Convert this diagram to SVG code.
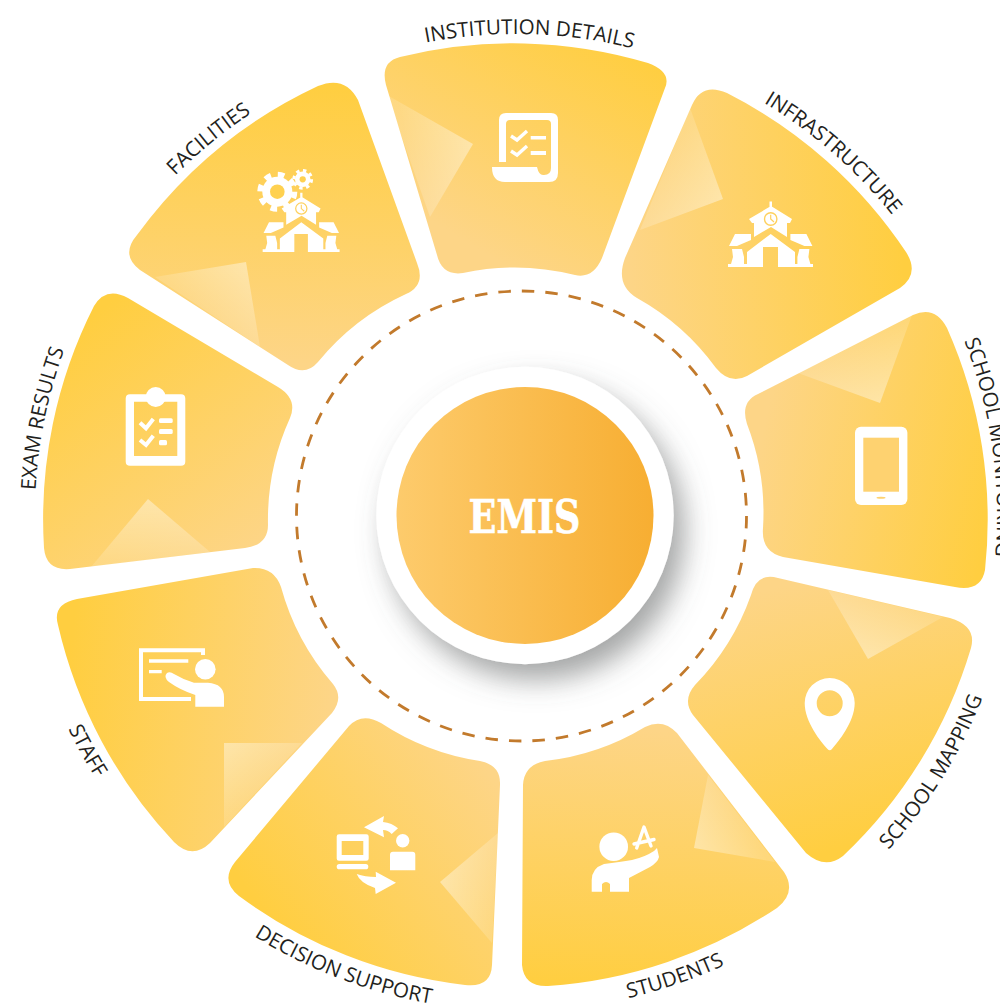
<svg xmlns="http://www.w3.org/2000/svg" xmlns:xlink="http://www.w3.org/1999/xlink" width="1000" height="1005" viewBox="0 0 1000 1005">
<style>
.lbl{font-family:"Open Sans","Noto Sans",sans-serif;font-size:20.6px;fill:#231f20;text-anchor:middle}
.w{fill:#fff}
.ck{fill:none;stroke:#fff;stroke-width:3.4}
</style>
<defs>
<linearGradient id="y"><stop offset="0" stop-color="#FFCE40"/><stop offset="1" stop-color="#FDD587"/></linearGradient>
<linearGradient id="g1" href="#y" gradientUnits="userSpaceOnUse" x1="650" y1="60" x2="520" y2="275"/>
<linearGradient id="g2" href="#y" gradientUnits="userSpaceOnUse" x1="905" y1="265" x2="630" y2="290"/>
<linearGradient id="g3" href="#y" gradientUnits="userSpaceOnUse" x1="985" y1="540" x2="750" y2="490"/>
<linearGradient id="g4" href="#y" gradientUnits="userSpaceOnUse" x1="835" y1="850" x2="765" y2="590"/>
<linearGradient id="g5" href="#y" gradientUnits="userSpaceOnUse" x1="570" y1="985" x2="590" y2="725"/>
<linearGradient id="g6" href="#y" gradientUnits="userSpaceOnUse" x1="270" y1="920" x2="480" y2="760"/>
<linearGradient id="g7" href="#y" gradientUnits="userSpaceOnUse" x1="70" y1="650" x2="335" y2="680"/>
<linearGradient id="g8" href="#y" gradientUnits="userSpaceOnUse" x1="100" y1="310" x2="270" y2="540"/>
<linearGradient id="g9" href="#y" gradientUnits="userSpaceOnUse" x1="330" y1="85" x2="320" y2="365"/>
<linearGradient id="sh"><stop offset="0" stop-color="#fff" stop-opacity=".42"/><stop offset="1" stop-color="#fff" stop-opacity=".14"/></linearGradient>
<linearGradient id="t1" href="#sh" gradientUnits="userSpaceOnUse" x1="473" y1="144" x2="408" y2="156"/>
<linearGradient id="t2" href="#sh" gradientUnits="userSpaceOnUse" x1="723" y1="199" x2="665" y2="169"/>
<linearGradient id="t3" href="#sh" gradientUnits="userSpaceOnUse" x1="880" y1="403" x2="855" y2="344"/>
<linearGradient id="t4" href="#sh" gradientUnits="userSpaceOnUse" x1="868" y1="659" x2="885" y2="603"/>
<linearGradient id="t5" href="#sh" gradientUnits="userSpaceOnUse" x1="694" y1="848" x2="741" y2="818"/>
<linearGradient id="t6" href="#sh" gradientUnits="userSpaceOnUse" x1="440" y1="882" x2="495" y2="888"/>
<linearGradient id="t7" href="#sh" gradientUnits="userSpaceOnUse" x1="224" y1="743" x2="263" y2="785"/>
<linearGradient id="t8" href="#sh" gradientUnits="userSpaceOnUse" x1="148" y1="499" x2="150" y2="560"/>
<linearGradient id="t9" href="#sh" gradientUnits="userSpaceOnUse" x1="246" y1="262" x2="208" y2="312"/>
<linearGradient id="core"><stop offset="0" stop-color="#FDCB6C"/><stop offset="1" stop-color="#F7AE32"/></linearGradient>
<filter id="ds" x="-30%" y="-30%" width="170%" height="170%"><feDropShadow dx="11" dy="16" stdDeviation="14" flood-color="#5c6060" flood-opacity=".55"/></filter>
<path id="cw" d="M516 996 A481 481 0 1 1 516.01 996"/>
<path id="ccw" d="M516 19 A496 496 0 1 0 516.01 19"/>
<path id="ccw2" d="M516 14 A501 501 0 1 0 516.01 14"/>
<g id="school">
<path class="w" d="M769.5 201.5h2.5v7h-2.5zM728 264h19v3h-19zM795 264h18v3h-18zM735 234h16v6l-14 6h-8zM806.4 234h-16v6l14 6h8zM732 249h10l2 8v7h-13l2-7zM809.4 249h-10l-2 8v7h13l-2-7zM747 252 770.7 234 795 252V267H778V247H763V267H747zM749 219 771 206 792 219 790 223H787V237L771 227 754 237V223H752z"/>
<circle cx="770.7" cy="219" r="6.2" fill="#fff" stroke="#FED15E" stroke-width="1.4"/>
<path d="M770.7 214.8V219L774 222" fill="none" stroke="#FED15E" stroke-width="1.2"/>
</g>
</defs>

<g id="segment-institution-details">
<path fill="url(#g1)" d="M400 57 A471 471 0 0 1 648 63 Q672 72 665 88 L602 258 Q593 279 575 275 A246 246 0 0 0 463 273 Q442 276 437 255 L386 85 Q380 62 400 57 Z"/>
<polygon fill="url(#t1)" points="387,95 473,144 430,217"/>
<path class="w" fill-rule="evenodd" d="M499 162V120Q499 113 506 113H551Q558 113 558 120V173Q558 182 549 182H505Q492 182 492 167H537Q539 176 544 175Q551 175 551 168V124Q551 120 547 120H510Q506 120 506 124V162Z"/>
<path class="ck" d="M511 136l6 4 10-9M511 151l6 4 10-9"/>
<path class="w" d="M530.7 136H546v3.5H530.7zM530.7 151H546v4H530.7z"/>
</g>
<g id="segment-infrastructure">
<path fill="url(#g2)" d="M727 93 A471 471 0 0 1 906 252 Q920 274 900 288 L747 376 Q730 385 716 368 A246 246 0 0 0 637 298 Q615 285 625 258 L692 105 Q702 82 727 93 Z"/>
<polygon fill="url(#t2)" points="690,108 723,199 640,230"/>
<use href="#school"/>
</g>
<g id="segment-school-monitoring">
<path fill="url(#g3)" d="M913 315 Q935 305 947 328 A471 471 0 0 1 985 570 Q981 592 955 587 L783 557 Q761 552 763 528 A246 246 0 0 0 747 424 Q740 402 758 394 Z"/>
<polygon fill="url(#t3)" points="912,315 880,403 798,373"/>
<rect class="w" x="855" y="426.7" width="52.4" height="78.3" rx="6"/>
<rect x="863.3" y="437.7" width="35.7" height="54" fill="#FED270"/>
<ellipse cx="881" cy="497.7" rx="4.5" ry="1" fill="#FED270"/>
</g>
<g id="segment-school-mapping">
<path fill="url(#g4)" d="M778 578 L950 618 Q977 626 971 648 A471 471 0 0 1 843 856 Q825 870 806 853 L693 715 Q682 700 695 685 A246 246 0 0 0 751 595 Q757 572 778 578 Z"/>
<polygon fill="url(#t4)" points="828,590 868,659 943,617"/>
<path class="w" fill-rule="evenodd" d="M804.7 703A25 25 0 0 1 854.7 703C854.7 722 838 742 832 749Q829.7 751.5 827.5 749C821 742 804.7 722 804.7 703ZM816.7 703.3A13 13 0 0 0 842.7 703.3A13 13 0 0 0 816.7 703.3Z"/>
</g>
<g id="segment-students">
<path fill="url(#g5)" d="M523 785 Q524 765 545 761 A246 246 0 0 0 645 727 Q663 718 677 733 L784 872 Q797 892 777 908 A471 471 0 0 1 548 986 Q524 987 522 965 Z"/>
<polygon fill="url(#t5)" points="708,775 694,848 775,862"/>
<circle class="w" cx="613.7" cy="846.7" r="14.3"/>
<path class="w" d="M591.7 891.7V880Q592 868 604 864Q620 862 632 860Q645 857 654 851L657 848 659 857Q658 862 650 867L629 878V891.7H610V884Q606 880 602 884V891.7Z"/>
<path d="M636.7 848 644 827 651 846M634 844 654 839.5" fill="none" stroke="#fff" stroke-width="3.4" stroke-linecap="round" stroke-linejoin="round"/>
</g>
<g id="segment-decision-support">
<path fill="url(#g6)" d="M349 726 Q362 712 381 723 A246 246 0 0 0 480 761 Q501 765 500 785 L492 965 Q491 988 465 985 A471 471 0 0 1 239 896 Q220 881 235 862 Z"/>
<polygon fill="url(#t6)" points="498,833 440,882 492,943"/>
<path class="w" fill-rule="evenodd" d="M339 834.3H366.4Q368.7 834.3 368.7 836.6V858.4Q368.7 860.7 366.4 860.7H339Q336.7 860.7 336.7 858.4V836.6Q336.7 834.3 339 834.3ZM341.7 841V855H363.3V841Z"/>
<rect class="w" x="336.7" y="864" width="31.6" height="5.3" rx="2.6"/>
<circle class="w" cx="402.7" cy="840.7" r="6.7"/>
<path class="w" d="M393 851.7H412.3Q415.3 851.7 415.3 854.7V870.3H390V854.7Q390 851.7 393 851.7ZM364 827.3 384 816 383 822Q392 823 398 828.3L391.7 834Q388 830 383 830L384 837.3ZM396 882.7 375.7 871.7 376 877Q365 877 356.7 874Q360 883 375 888L375.7 894Z"/>
</g>
<g id="segment-staff">
<path fill="url(#g7)" d="M77 599 L253 568 Q274 567 281 587 A246 246 0 0 0 333 684 Q344 698 332 713 L210 843 Q192 860 174 842 A471 471 0 0 1 58 625 Q52 604 77 599 Z"/>
<polygon fill="url(#t7)" points="302,743 224,743 224,827"/>
<path d="M203 655V650.3H141V699H191" fill="none" stroke="#fff" stroke-width="4"/>
<path class="w" d="M149 659.3H188.3v3.4H149zM149 670H161.7v3.3H149z"/>
<circle class="w" cx="205.3" cy="669.3" r="10.3"/>
<path class="w" d="M224 706.7H195.3V695Q180 690 169 682Q163 677 167 673Q170 671 174 674Q184 680 194 682.7H208Q224 684 224 697Z"/>
</g>
<g id="segment-exam-results">
<path fill="url(#g8)" d="M128 298 L278 387 Q298 399 290 418 A246 246 0 0 0 268 525 Q268 545 245 548 L70 569 Q46 571 44 548 A471 471 0 0 1 94 306 Q106 286 128 298 Z"/>
<polygon fill="url(#t8)" points="91,567 148,499 210,552"/>
<circle class="w" cx="155.7" cy="397" r="10"/>
<path class="w" fill-rule="evenodd" d="M130 394.3H181Q185.3 394.3 185.3 398.6V461.4Q185.3 465.7 181 465.7H130Q125.7 465.7 125.7 461.4V398.6Q125.7 394.3 130 394.3ZM134 401.7V456H177.3V401.7Z"/>
<path d="M140 422.7l6 5.6 7.3-9.3M140 440l6 5 7.3-9.3" fill="none" stroke="#fff" stroke-width="4"/>
<rect class="w" x="159" y="418.3" width="13.7" height="4.7" rx="1.5"/>
<rect class="w" x="159" y="429" width="13.7" height="5" rx="1.5"/>
<rect class="w" x="159" y="440" width="8" height="5.3" rx="1.5"/>
</g>
<g id="segment-facilities">
<path fill="url(#g9)" d="M318 86 Q345 75 358 100 L417 263 Q426 285 406 294 A246 246 0 0 0 318 362 Q305 377 288 365 L140 270 Q120 255 137 235 A471 471 0 0 1 318 86 Z"/>
<polygon fill="url(#t9)" points="155,277 246,262 260,347"/>
<use href="#school" transform="translate(301.3 252) scale(.905) translate(-770.7 -267)"/>
<g transform="translate(277.3 191.7)">
<circle class="w" r="15"/><circle r="17" fill="none" stroke="#fff" stroke-width="6" stroke-dasharray="6.5 6.85"/><circle r="7.3" fill="#FFD150"/>
</g>
<g transform="translate(302.7 179.3) scale(.52)">
<circle class="w" r="15"/><circle r="17" fill="none" stroke="#fff" stroke-width="6" stroke-dasharray="6.5 6.85"/><circle r="6" fill="#FFD150"/>
</g>
</g>

<g id="connectors">
<circle cx="521.5" cy="516" r="225" fill="none" stroke="#C27A2C" stroke-width="2.8" stroke-dasharray="12.5 11.06"/>
</g>

<g id="center-emis">
<circle cx="525" cy="515.5" r="148.7" fill="#fff" filter="url(#ds)"/>
<circle cx="525" cy="515.5" r="128.5" fill="url(#core)"/>
<text x="524.5" y="533" font-family="'DejaVu Serif',serif" font-weight="700" font-size="46" fill="#fff" stroke="#fff" stroke-width=".6" text-anchor="middle" textLength="112" lengthAdjust="spacingAndGlyphs">EMIS</text>
</g>

<g id="labels">
<text class="lbl"><textPath href="#cw" startOffset="50.45%">INSTITUTION DETAILS</textPath></text>
<text class="lbl"><textPath href="#cw" startOffset="61.45%">INFRASTRUCTURE</textPath></text>
<text class="lbl" style="text-anchor:start"><textPath href="#cw" startOffset="69.1%">SCHOOL MONITORING</textPath></text>
<text class="lbl"><textPath href="#cw" startOffset="39.1%">FACILITIES</textPath></text>
<text class="lbl"><textPath href="#cw" startOffset="28.2%">EXAM RESULTS</textPath></text>
<text class="lbl"><textPath href="#ccw" startOffset="33%">STAFF</textPath></text>
<text class="lbl"><textPath href="#ccw" startOffset="44.2%">DECISION SUPPORT</textPath></text>
<text class="lbl"><textPath href="#ccw" startOffset="55.27%">STUDENTS</textPath></text>
<text class="lbl"><textPath href="#ccw2" startOffset="66.2%">SCHOOL MAPPING</textPath></text>
</g>
</svg>
